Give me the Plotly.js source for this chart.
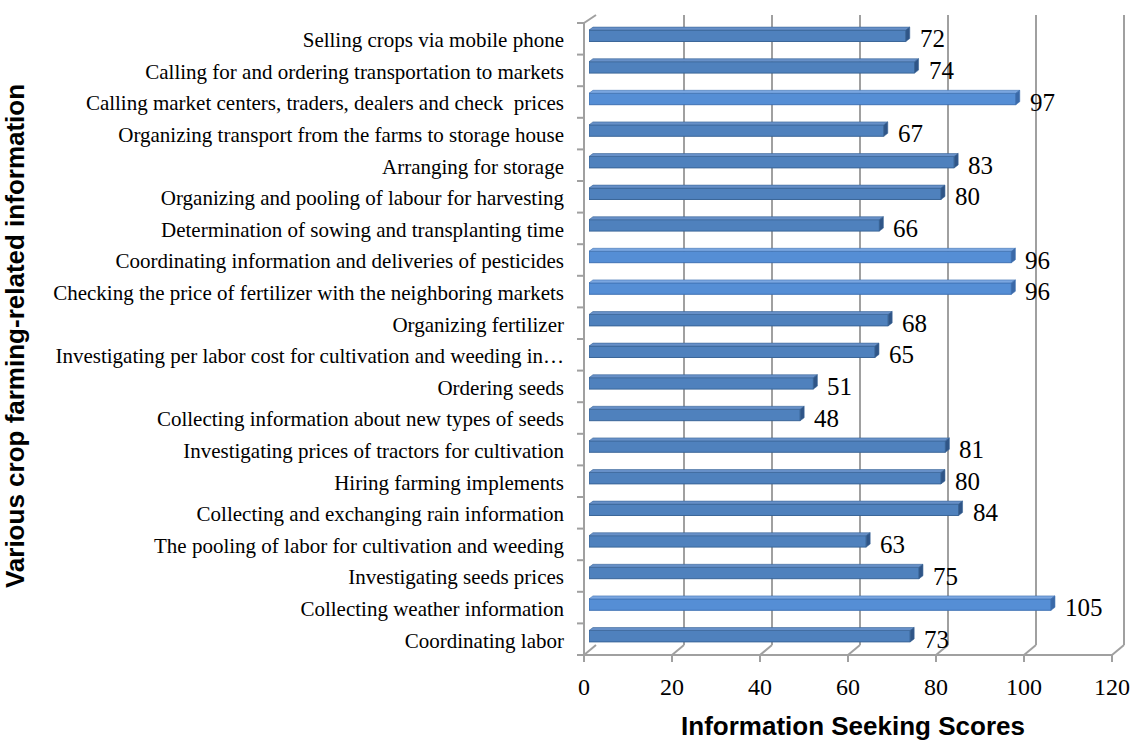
<!DOCTYPE html>
<html>
<head>
<meta charset="utf-8">
<script src="https://cdn.plot.ly/plotly-3.0.1.min.js"></script>
<style>
  html, body { margin: 0; padding: 0; background: #ffffff; }
  #chart { width: 1135px; height: 742px; }
</style>
</head>
<body>
<div id="chart"></div>
<script>
// Activities, listed from the top row of the chart to the bottom row
const activities = [
  "Selling crops via mobile phone",
  "Calling for and ordering transportation to markets",
  "Calling market centers, traders, dealers and check  prices",
  "Organizing transport from the farms to storage house",
  "Arranging for storage",
  "Organizing and pooling of labour for harvesting",
  "Determination of sowing and transplanting time",
  "Coordinating information and deliveries of pesticides",
  "Checking the price of fertilizer with the neighboring markets",
  "Organizing fertilizer",
  "Investigating per labor cost for cultivation and weeding in…",
  "Ordering seeds",
  "Collecting information about new types of seeds",
  "Investigating prices of tractors for cultivation",
  "Hiring farming implements",
  "Collecting and exchanging rain information",
  "The pooling of labor for cultivation and weeding",
  "Investigating seeds prices",
  "Collecting weather information",
  "Coordinating labor"
];

// Information seeking score for each activity (same order)
const scores = [72, 74, 97, 67, 83, 80, 66, 96, 96, 68, 65, 51, 48, 81, 80, 84, 63, 75, 105, 73];

// Value axis ticks
const xTicks = [0, 20, 40, 60, 80, 100, 120];

const xTitle = "Information Seeking Scores";
const yTitle = "Various crop farming-related information";

// ---- layout geometry (pixels) ----
const W = 1135, H = 742;
const M = { l: 589, r: 18, t: 20, b: 90 };
const PW = W - M.l - M.r;
const PH = H - M.t - M.b;
const pyToPaper = py => (H - M.b - py) / PH;
const X_MAX = xTicks[xTicks.length - 1];
const valToPaper = v => v / X_MAX;           // x axis spans [0, X_MAX] over the plot width

// depth offsets of the front and back planes of the 3-D frame
const FRONT = { dx: -5, floor: 655, top: 23 };
const BACK  = { dx: 7,  floor: 645, top: 15 };
const GRID = "#a0a0a0";

const n = activities.length;
const yPos = activities.map((_, i) => n - 1 - i);   // top row gets the highest index

// bar geometry in axis units
const barW = 0.36;
const depthX = 0.9;    // sideways depth of the bar extrusion (value units)
const depthY = 0.095;  // upward depth of the bar extrusion (category units)

const palette = {
  normal: { front: "#4f81bd", edge: "#3b6698", top: "#6790c8", side: "#2f5587" },
  lit:    { front: "#558ed5", edge: "#3f72b4", top: "#7aa6e0", side: "#3a69a8" }
};
const isLit = v => v >= 95;
const shadeOf = v => (isLit(v) ? palette.lit : palette.normal);

// front faces of the bars
const barTrace = {
  type: "bar",
  orientation: "h",
  x: scores,
  y: yPos,
  width: barW,
  marker: {
    color: scores.map(v => shadeOf(v).front),
    line: { color: scores.map(v => shadeOf(v).edge), width: 1 }
  },
  hoverinfo: "x+text",
  text: activities,
  textposition: "none",
  showlegend: false
};

// top and side faces of the extruded bars, built from the scores
function faceTrace(group, face) {
  const xs = [], ys = [];
  scores.forEach((v, i) => {
    if (isLit(v) !== (group === "lit")) return;
    const y = yPos[i];
    const yt = y + barW / 2, yb = y - barW / 2;
    if (face === "top") {
      xs.push(0, v, v + depthX, depthX, 0, null);
      ys.push(yt, yt, yt + depthY, yt + depthY, yt, null);
    } else {
      xs.push(v, v, v + depthX, v + depthX, v, null);
      ys.push(yb, yt, yt + depthY, yb + depthY, yb, null);
    }
  });
  return {
    type: "scatter", mode: "lines", x: xs, y: ys,
    fill: "toself", fillcolor: palette[group][face],
    line: { color: palette[group].edge, width: 0.6 },
    hoverinfo: "skip", showlegend: false
  };
}

const traces = [
  barTrace,
  faceTrace("normal", "top"), faceTrace("normal", "side"),
  faceTrace("lit", "top"), faceTrace("lit", "side")
];

// ---- 3-D frame: back-wall gridlines, floor, left wall ----
// paper-referenced so that the front edges outside the plot area are not clipped
const shapes = [];
const seg = (v, dx0, py0, dx1, py1) => ({
  type: "line", layer: "below",
  xref: "paper", xsizemode: "pixel", xanchor: valToPaper(v), x0: dx0, x1: dx1,
  yref: "paper", y0: pyToPaper(py0), y1: pyToPaper(py1),
  line: { color: GRID, width: 2 }
});

xTicks.forEach(v => {
  if (v > 0) shapes.push(seg(v, BACK.dx, BACK.floor, BACK.dx, BACK.top));      // back wall gridline
  shapes.push(seg(v, FRONT.dx, FRONT.floor, BACK.dx, BACK.floor));              // floor diagonal
  shapes.push(seg(v, FRONT.dx, FRONT.floor, FRONT.dx, FRONT.floor + 7));        // tick below front edge
});

// front edge of the floor
shapes.push({
  type: "line", layer: "below",
  xref: "paper", x0: valToPaper(0) + FRONT.dx / PW, x1: valToPaper(X_MAX) + FRONT.dx / PW,
  yref: "paper", y0: pyToPaper(FRONT.floor), y1: pyToPaper(FRONT.floor),
  line: { color: GRID, width: 2 }
});

// left wall: front edge and top edge
shapes.push(seg(0, FRONT.dx, FRONT.floor, FRONT.dx, FRONT.top));
shapes.push(seg(0, FRONT.dx, FRONT.top, BACK.dx, BACK.top));
// category dividers on the left wall
const rowH = (FRONT.floor - FRONT.top) / n;
for (let k = 0; k <= n; k++) {
  const py = FRONT.top + k * rowH;
  shapes.push(seg(0, FRONT.dx - 7, py, FRONT.dx, py));
}

// value labels at the end of each bar
const annotations = scores.map((v, i) => ({
  x: v, y: yPos[i], xref: "x", yref: "y",
  text: String(v), showarrow: false,
  xanchor: "left", yanchor: "middle", xshift: 12, yshift: -3,
  font: { family: "Liberation Serif, Times New Roman, serif", size: 25, color: "#000000" }
}));

const layout = {
  width: W, height: H,
  margin: M,
  paper_bgcolor: "#ffffff",
  plot_bgcolor: "rgba(0,0,0,0)",
  bargap: 0.5,
  xaxis: {
    range: [0, X_MAX],
    tickvals: xTicks,
    ticktext: xTicks.map(String),
    showgrid: false, zeroline: false, showline: false, ticks: "",
    ticklabelshift: FRONT.dx,
    ticklabelstandoff: 18,
    tickfont: { family: "Liberation Serif, Times New Roman, serif", size: 24, color: "#000000" },
    title: {
      text: xTitle,
      font: { family: "Liberation Sans, Arial, sans-serif", size: 26, color: "#000000", weight: "bold" },
      standoff: 17
    },
    automargin: false,
    fixedrange: true
  },
  yaxis: {
    range: [-0.5, n - 0.5],
    tickvals: yPos,
    ticktext: activities,
    showgrid: false, zeroline: false, showline: false, ticks: "",
    ticklabelstandoff: 24,
    ticklabelshift: 4,
    tickfont: { family: "Liberation Serif, Times New Roman, serif", size: 21, color: "#000000" },
    title: {
      text: yTitle,
      font: { family: "Liberation Sans, Arial, sans-serif", size: 26, color: "#000000", weight: "bold" },
      standoff: 28
    },
    automargin: false,
    fixedrange: true
  },
  shapes: shapes,
  annotations: annotations,
  showlegend: false
};

Plotly.newPlot("chart", traces, layout, { displayModeBar: false });
</script>
</body>
</html>
